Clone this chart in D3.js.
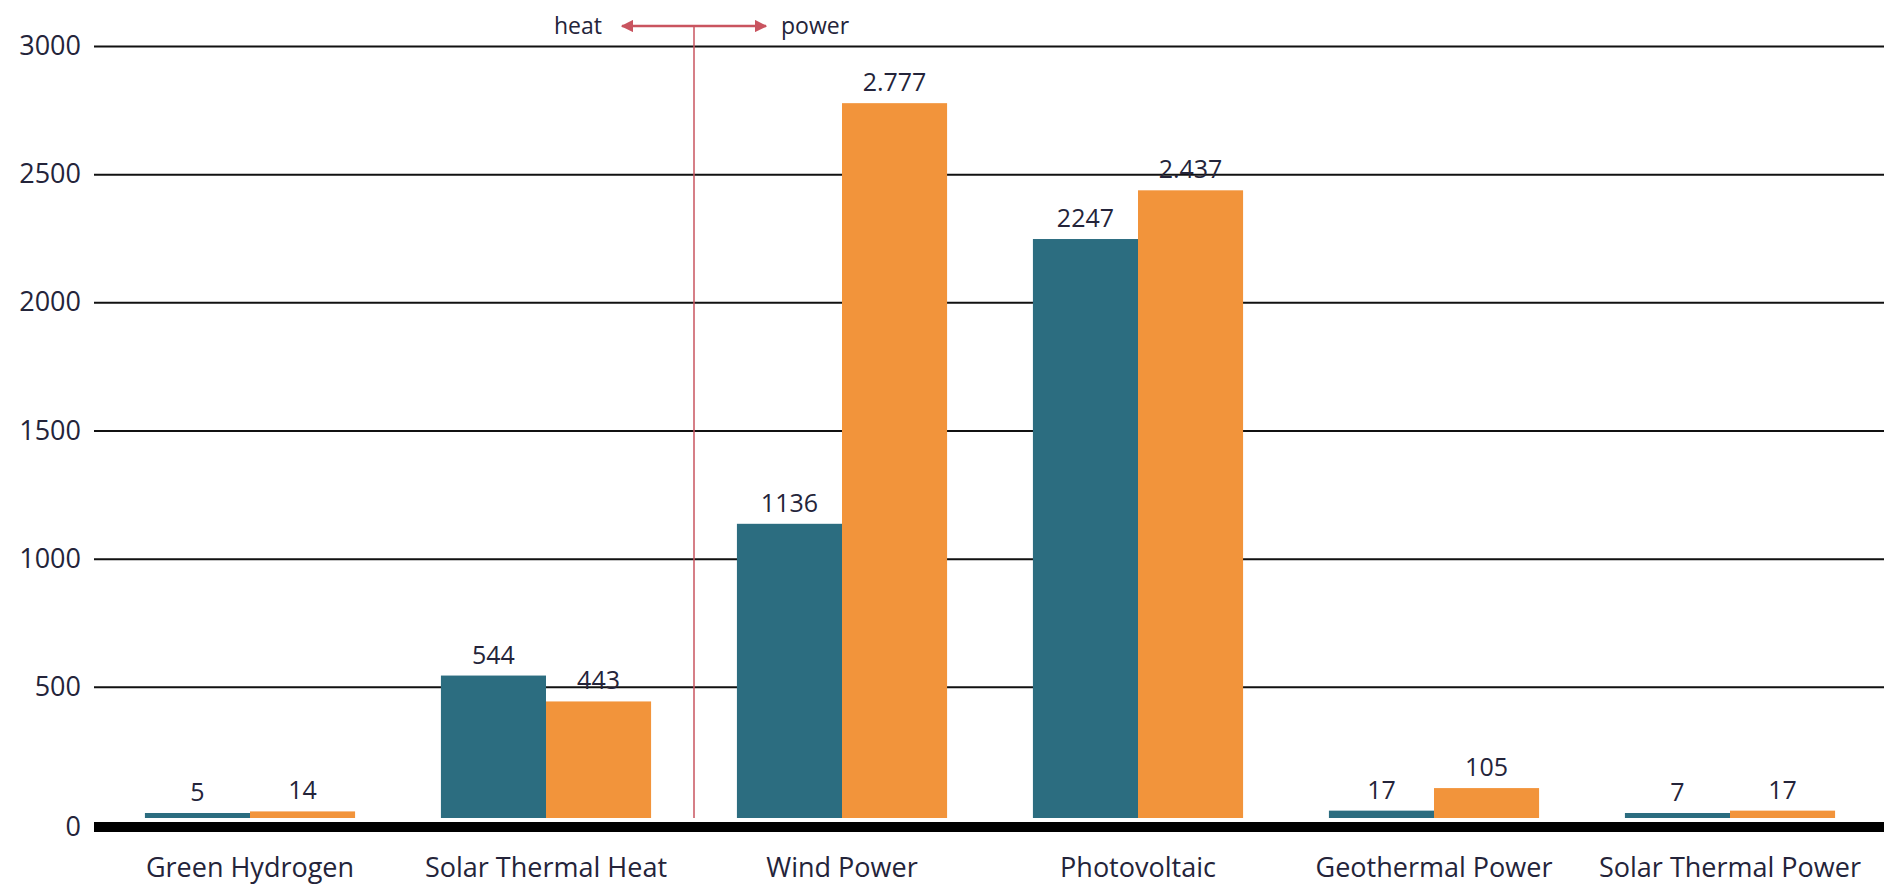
<!DOCTYPE html>
<html>
<head>
<meta charset="utf-8">
<script src="https://cdn.jsdelivr.net/npm/d3@7"></script>
<style>
  html, body { margin: 0; padding: 0; background: #fff; }
  svg { display: block; }
  text { font-family: "Open Sans", sans-serif; fill: #24243a; }
</style>
</head>
<body>
<svg id="chart" width="1888" height="888"></svg>
<script>
// Categories and the two series (installed capacity by technology)
const categories = ["Green Hydrogen", "Solar Thermal Heat", "Wind Power", "Photovoltaic", "Geothermal Power", "Solar Thermal Power"];
const seriesNames = ["first", "second"];
const firstValues  = [5, 544, 1136, 2247, 17, 7];
const secondValues = [14, 443, 2777, 2437, 105, 17];
const firstLabels  = ["5", "544", "1136", "2247", "17", "7"];
const secondLabels = ["14", "443", "2.777", "2.437", "105", "17"];
const yTicks = [0, 500, 1000, 1500, 2000, 2500, 3000];
const colors = ["#2c6d80", "#f2943b"];

const svg = d3.select("#chart");

const y = d3.scaleLinear().domain([0, 3000]).range([815, 46]);
const x0 = d3.scaleBand().domain(categories).range([102, 1878]).paddingInner(0.29).paddingOuter(0.145);
const x1 = d3.scaleBand().domain(seriesNames).range([0, x0.bandwidth()]).padding(0);

const gridLeft = 94, gridRight = 1884;
const baseY = y(0) + 12;      // thick zero line sits just under the bars
const barBottom = y(0) + 3;
const minBar = 5;

// Y axis with full-width gridlines
const yAxis = d3.axisLeft(y)
  .tickValues(yTicks)
  .tickSize(-(gridRight - gridLeft))
  .tickPadding(13)
  .tickFormat(d3.format("d"));

const gAxis = svg.append("g")
  .attr("transform", `translate(${gridLeft},0)`)
  .call(yAxis);
gAxis.select(".domain").remove();
gAxis.selectAll(".tick line").attr("stroke", "#111").attr("stroke-width", 2);
gAxis.selectAll(".tick text")
  .attr("font-size", 27)
  .attr("font-family", "'Open Sans', sans-serif")
  .attr("fill", "#24243a");
// zero tick moves down onto the heavy baseline
gAxis.selectAll(".tick").filter(d => d === 0)
  .attr("transform", `translate(0,${baseY})`)
  .select("line").remove();

// Heavy baseline
svg.append("rect")
  .attr("x", gridLeft)
  .attr("y", baseY - 5)
  .attr("width", gridRight - gridLeft)
  .attr("height", 10)
  .attr("fill", "#000");

// Bars
const rows = categories.map((c, i) => ({
  category: c,
  items: [
    { key: "first", value: firstValues[i], label: firstLabels[i] },
    { key: "second", value: secondValues[i], label: secondLabels[i] }
  ]
}));

const groups = svg.append("g").selectAll("g")
  .data(rows)
  .join("g")
  .attr("transform", d => `translate(${x0(d.category)},0)`);

const barTop = d => Math.min(y(d.value), barBottom - minBar);

groups.selectAll("rect")
  .data(d => d.items)
  .join("rect")
  .attr("x", d => x1(d.key))
  .attr("width", x1.bandwidth())
  .attr("y", d => barTop(d))
  .attr("height", d => barBottom - barTop(d))
  .attr("fill", (d, i) => colors[i]);

groups.selectAll("text.val")
  .data(d => d.items)
  .join("text")
  .attr("class", "val")
  .attr("x", d => x1(d.key) + x1.bandwidth() / 2)
  .attr("y", d => barTop(d) - 12)
  .attr("text-anchor", "middle")
  .attr("font-size", 25)
  .text(d => d.label);

// Category labels
svg.append("g").selectAll("text")
  .data(categories)
  .join("text")
  .attr("x", d => x0(d) + x0.bandwidth() / 2)
  .attr("y", 877)
  .attr("text-anchor", "middle")
  .attr("font-size", 27)
  .text(d => d);

// Heat / power divider
const divX = 694, arrowY = 26;
const red = "#c9545f";
const defs = svg.append("defs");
defs.append("marker")
  .attr("id", "arrowHead")
  .attr("viewBox", "0 0 10 10")
  .attr("refX", 9).attr("refY", 5)
  .attr("markerWidth", 5).attr("markerHeight", 5)
  .attr("markerUnits", "strokeWidth")
  .attr("orient", "auto-start-reverse")
  .append("path").attr("d", "M0,0 L10,5 L0,10 z").attr("fill", red);

svg.append("line")
  .attr("x1", divX).attr("x2", divX)
  .attr("y1", arrowY).attr("y2", barBottom)
  .attr("stroke", red).attr("stroke-width", 1.5);

svg.append("line")
  .attr("x1", 622).attr("x2", 766)
  .attr("y1", arrowY).attr("y2", arrowY)
  .attr("stroke", red).attr("stroke-width", 2.5)
  .attr("marker-start", "url(#arrowHead)")
  .attr("marker-end", "url(#arrowHead)");

svg.append("text")
  .attr("x", 602).attr("y", arrowY + 8)
  .attr("text-anchor", "end")
  .attr("font-size", 23)
  .text("heat");
svg.append("text")
  .attr("x", 781).attr("y", arrowY + 8)
  .attr("font-size", 23)
  .text("power");
</script>
</body>
</html>
